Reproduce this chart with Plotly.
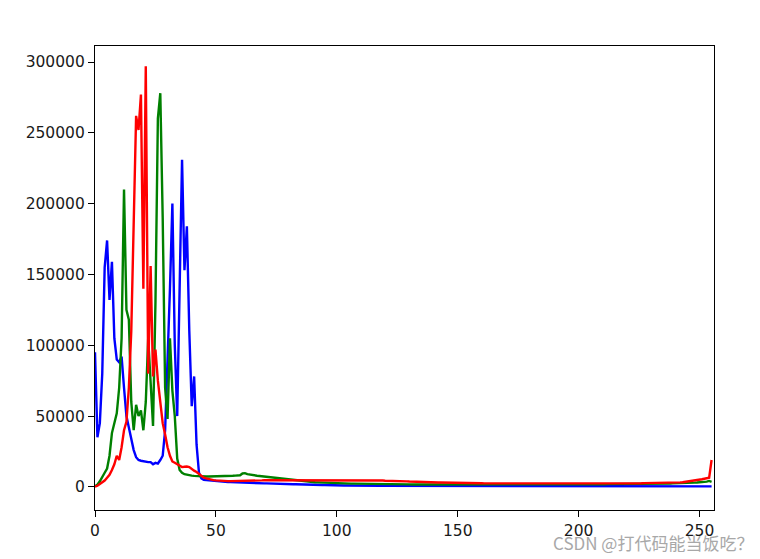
import plotly.graph_objects as go

bins = list(range(256))

blue = [
    95000, 35000, 45000, 80000, 155000, 174000, 132000, 159000, 105000, 90000, 88000, 92000, 70000, 50000, 42000, 33000,
    26000, 21000, 19000, 18500, 18000, 18000, 17500, 17500, 16000, 17000, 16500, 19000, 22000, 40000, 85000, 140000,
    200000, 100000, 50000, 140000, 231000, 153000, 184000, 110000, 57000, 78000, 30000, 10000, 6000, 5000, 4800, 4600,
    4400, 4200, 4000, 3900, 3800, 3700, 3600, 3500, 3400, 3300, 3200, 3100, 3000, 3000, 2900, 2900,
    2800, 2800, 2700, 2700, 2600, 2600, 2500, 2500, 2400, 2400, 2300, 2300, 2200, 2200, 2100, 2100,
    2000, 2000, 1900, 1900, 1800, 1800, 1700, 1700, 1600, 1600, 1500, 1500, 1400, 1400, 1300, 1300,
    1200, 1200, 1100, 1100, 1000, 1000, 1000, 950, 950, 900, 900, 900, 850, 850, 850, 800,
    800, 800, 800, 780, 780, 760, 760, 750, 750, 740, 740, 730, 730, 720, 720, 710,
    710, 700, 700, 700, 690, 690, 680, 680, 670, 670, 660, 660, 650, 650, 650, 640,
    640, 630, 630, 620, 620, 610, 610, 600, 600, 600, 590, 590, 580, 580, 570, 570,
    560, 560, 560, 550, 550, 550, 540, 540, 540, 530, 530, 530, 520, 520, 520, 520,
    510, 510, 510, 510, 500, 500, 500, 500, 500, 500, 490, 490, 490, 490, 490, 490,
    480, 480, 480, 480, 480, 470, 470, 470, 470, 470, 470, 460, 460, 460, 460, 460,
    460, 450, 450, 450, 450, 450, 450, 450, 440, 440, 440, 440, 440, 440, 440, 440,
    430, 430, 430, 430, 430, 430, 430, 430, 430, 420, 420, 420, 420, 420, 420, 420,
    420, 420, 420, 410, 410, 410, 410, 410, 400, 400, 400, 400, 400, 400, 400, 400,
]

green = [
    500, 1500, 4000, 7500, 10000, 13000, 22000, 38000, 45000, 52000, 70000, 105000, 210000, 125000, 118000, 60000,
    40000, 58000, 50000, 54000, 40000, 60000, 105000, 75000, 43000, 130000, 260000, 278000, 190000, 70000, 48000, 105000,
    68000, 50000, 20000, 12000, 10000, 9000, 8500, 8200, 8000, 7800, 7600, 7500, 7400, 7300, 7300, 7400,
    7400, 7500, 7500, 7600, 7600, 7700, 7700, 7800, 7800, 7900, 8000, 8000, 8200, 9500, 9700, 9000,
    8600, 8300, 8100, 7900, 7700, 7500, 7300, 7100, 6800, 6500, 6200, 6000, 5800, 5600, 5400, 5200,
    5000, 4800, 4600, 4400, 4200, 4000, 3800, 3700, 3600, 3500, 3400, 3300, 3200, 3100, 3000, 2900,
    2800, 2700, 2700, 2600, 2600, 2500, 2500, 2400, 2400, 2400, 2300, 2300, 2300, 2200, 2200, 2200,
    2100, 2100, 2100, 2100, 2000, 2000, 2000, 2000, 2000, 1900, 1900, 1900, 1900, 1900, 1800, 1800,
    1800, 1800, 1800, 1700, 1700, 1700, 1700, 1700, 1600, 1600, 1600, 1600, 1600, 1600, 1500, 1500,
    1500, 1500, 1500, 1500, 1500, 1400, 1400, 1400, 1400, 1400, 1400, 1400, 1400, 1400, 1400, 1400,
    1400, 1400, 1400, 1400, 1400, 1400, 1400, 1400, 1400, 1400, 1400, 1450, 1450, 1450, 1450, 1450,
    1500, 1500, 1500, 1500, 1500, 1550, 1550, 1550, 1550, 1600, 1600, 1600, 1600, 1650, 1650, 1650,
    1700, 1700, 1700, 1700, 1750, 1750, 1750, 1800, 1800, 1800, 1800, 1850, 1850, 1850, 1850, 1900,
    1900, 1900, 1900, 1900, 1950, 1950, 1950, 1950, 2000, 2000, 2000, 2000, 2000, 2050, 2050, 2100,
    2100, 2100, 2150, 2150, 2200, 2200, 2200, 2250, 2250, 2300, 2300, 2350, 2400, 2400, 2450, 2500,
    2500, 2550, 2600, 2650, 2700, 2750, 2800, 2900, 3000, 3100, 3200, 3300, 3500, 3700, 4200, 3600,
]

red = [
    200, 800, 2000, 3000, 4500, 6500, 8500, 12000, 16000, 22000, 19000, 28000, 40000, 46000, 70000, 110000,
    185000, 262000, 252000, 277000, 140000, 297000, 80000, 156000, 78000, 97000, 75000, 60000, 45000, 37000, 28000, 22000,
    18000, 17000, 16000, 14500, 14000, 14200, 14400, 14000, 12500, 11500, 10500, 9000, 7500, 6500, 6000, 5500,
    5000, 4800, 4600, 4400, 4300, 4200, 4200, 4100, 4100, 4100, 4200, 4200, 4300, 4300, 4400, 4400,
    4500, 4500, 4500, 4600, 4600, 4600, 4700, 4700, 4700, 4800, 4800, 4800, 4900, 4900, 4900, 5000,
    5000, 5000, 5000, 5000, 5000, 5000, 5000, 5000, 5000, 5000, 5000, 5000, 5000, 5000, 5000, 5000,
    5000, 5000, 5000, 5000, 5000, 5000, 5000, 4900, 4900, 4900, 4900, 4900, 4800, 4800, 4800, 4800,
    4700, 4700, 4700, 4600, 4600, 4600, 4500, 4500, 4400, 4400, 4300, 4300, 4200, 4200, 4100, 4000,
    3900, 3900, 3800, 3700, 3700, 3600, 3500, 3500, 3400, 3400, 3300, 3300, 3200, 3200, 3100, 3100,
    3100, 3000, 3000, 3000, 3000, 2900, 2900, 2900, 2800, 2800, 2800, 2700, 2700, 2700, 2600, 2600,
    2600, 2500, 2500, 2500, 2400, 2400, 2400, 2300, 2300, 2300, 2300, 2200, 2200, 2200, 2200, 2200,
    2100, 2100, 2100, 2100, 2100, 2100, 2100, 2100, 2100, 2100, 2100, 2100, 2100, 2100, 2100, 2100,
    2100, 2100, 2100, 2100, 2100, 2200, 2200, 2200, 2200, 2200, 2200, 2200, 2300, 2300, 2300, 2300,
    2300, 2300, 2400, 2400, 2400, 2400, 2500, 2500, 2500, 2500, 2500, 2500, 2600, 2600, 2600, 2600,
    2600, 2600, 2600, 2700, 2700, 2700, 2700, 2700, 2800, 2800, 2800, 2800, 2900, 2900, 2900, 3000,
    3000, 3100, 3200, 3300, 3500, 3700, 3900, 4200, 4500, 4800, 5100, 5400, 5800, 6200, 6500, 19000,
]

x_ticks = [0, 50, 100, 150, 200, 250]
y_ticks = [0, 50000, 100000, 150000, 200000, 250000, 300000]
watermark = "CSDN @打代码能当饭吃？"

fig = go.Figure()
for vals, col in [(blue, "#0000ff"), (green, "#008000"), (red, "#ff0000")]:
    fig.add_trace(go.Scatter(x=bins, y=vals, mode="lines",
                             line=dict(color=col, width=2.4), showlegend=False,
                             hoverinfo="skip"))

axis_common = dict(showline=True, linecolor="black", linewidth=1.2, mirror=True,
                   ticks="outside", ticklen=6, tickwidth=1.2, tickcolor="black",
                   showgrid=False, zeroline=False,
                   tickfont=dict(family="DejaVu Sans", size=15.5, color="#1a1a1a"))

fig.update_xaxes(range=[0, 256], tickvals=x_ticks, ticktext=[str(v) for v in x_ticks],
                 **axis_common)
fig.update_yaxes(range=[-16300, 311300], tickvals=y_ticks, ticktext=[str(v) for v in y_ticks],
                 **axis_common)

fig.add_annotation(text=watermark, xref="paper", yref="paper", x=1.067, y=-0.069,
                   xanchor="right", yanchor="middle", showarrow=False,
                   font=dict(family="Noto Sans CJK SC", size=17, color="#a8a8a8"))

fig.update_layout(width=760, height=559, paper_bgcolor="white", plot_bgcolor="white",
                  margin=dict(l=87, r=54, t=38, b=57))

fig.write_html("out.html")
